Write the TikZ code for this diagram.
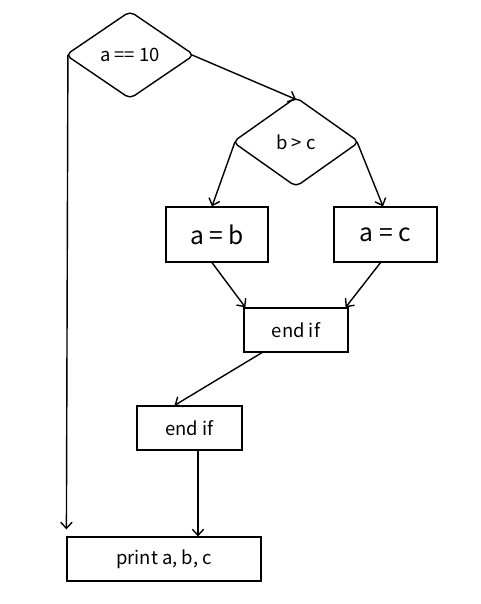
\documentclass[tikz,border=0pt]{standalone}
\usepackage{fontspec}
\setmainfont{Noto Sans CJK JP}
\usepackage{tikz}
\usetikzlibrary{positioning,shapes.geometric,arrows.meta}

\begin{document}
\begin{tikzpicture}[x=0.02cm, y=-0.02cm, line width=0.8pt,
  >={Straight Barb[length=3.5pt,width=6.5pt]},
  every node/.style={font=\fontsize{10.5}{12}\selectfont},
  cond/.style={draw, diamond, rounded corners=3pt, inner sep=0pt, outer sep=-0.8pt},
  act/.style={draw, rectangle, inner sep=0pt, line width=0.7pt}]
  \useasboundingbox (0,0) rectangle (480,604);
  % decisions
  \node[cond, minimum width=2.54cm, minimum height=1.72cm] (test1) at (130,55) {a == 10};
  \node[cond, minimum width=2.5cm, minimum height=1.76cm] (test2) at (296,142) {b > c};
  % branches
  \node[act, minimum width=2.04cm, minimum height=1.1cm, font=\fontsize{14}{16}\selectfont] (setb) at (217,234.5) {a = b};
  \node[act, minimum width=2.06cm, minimum height=1.1cm, font=\fontsize{14}{16}\selectfont] (setc) at (385.5,234.5) {a = c};
  \node[act, minimum width=2.08cm, minimum height=0.88cm] (end1) at (296,330) {end if};
  \node[act, minimum width=2.1cm, minimum height=0.88cm] (end2) at (189.5,428) {end if};
  \node[act, minimum width=3.88cm, minimum height=0.88cm] (out) at (164,559) {print a, b, c};
  \draw[->] (test1.east) -- (test2.north);
  \draw[->] (test2.west) -- ([xshift=-0.1cm]setb.north);
  \draw[->] (test2.east) -- ([xshift=-0.05cm]setc.north);
  \draw[->] ([xshift=-0.1cm]setb.south) -- ([xshift=0.04cm]end1.north west);
  \draw[->] ([xshift=-0.1cm]setc.south) -- ([xshift=-0.06cm]end1.north east);
  \draw[->] ([xshift=-0.68cm]end1.south) -- ([xshift=-0.3cm]end2.north);
  \draw[->] ([xshift=0.17cm]end2.south) -- ([xshift=0.17cm]end2.south |- out.north);
  \draw[->] (test1.west) -- ([yshift=0.14cm]out.north west);
\end{tikzpicture}
\end{document}
